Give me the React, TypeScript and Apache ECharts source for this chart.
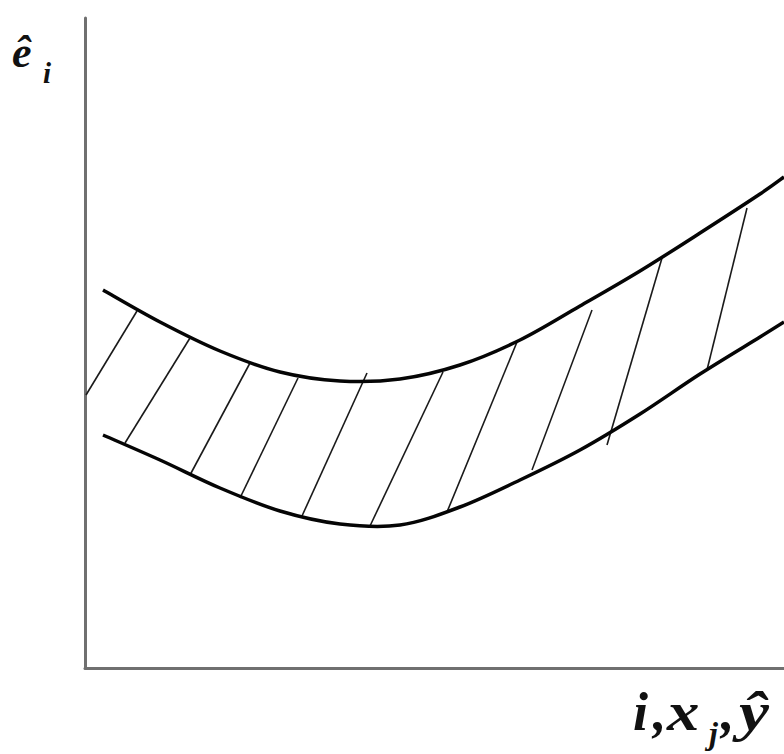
import React, { useEffect, useRef } from "react";
import * as echarts from "echarts";

// Band boundaries, sampled at common x positions
const bandX = [18, 75, 135, 195, 255, 315, 375, 435, 495, 555, 615, 675, 699];
const upperY = [378, 346, 317, 296, 287, 289, 303, 328, 362, 397, 435, 474, 491];
const lowerY = [233, 208, 180, 157, 144, 143, 161, 188, 218, 254, 294, 331, 346];

// Hatch strokes between the two boundaries: start point and end point
const hatchX0 = [1, 40, 105, 155, 217, 285, 362, 447, 522, 622];
const hatchY0 = [273, 225, 193, 170, 152, 142, 156, 198, 223, 298];
const hatchX1 = [52, 105, 165, 213, 282, 358, 432, 507, 577, 662];
const hatchY1 = [357, 330, 305, 290, 295, 296, 326, 358, 410, 460];

const X_MAX = 699;
const Y_MAX = 650;

const SERIF = '"Liberation Serif", "Times New Roman", serif';

// One italic bold glyph, placed by its left edge and vertical centre
function glyph(text: string, x: number, y: number, size: number, stretch = 1) {
  return {
    type: "text",
    x,
    y,
    scaleX: stretch,
    style: {
      text,
      x: 0,
      y: 0,
      fill: "#111",
      font: `italic bold ${size}px ${SERIF}`,
      textAlign: "left",
      textVerticalAlign: "middle",
    },
  };
}

// Catmull-Rom spline through screen points, written as cubic Bézier segments
function splinePath(pts: number[][]): string {
  let d = `M${pts[0][0]},${pts[0][1]}`;
  for (let i = 0; i < pts.length - 1; i++) {
    const p0 = pts[i - 1] || pts[i];
    const p1 = pts[i];
    const p2 = pts[i + 1];
    const p3 = pts[i + 2] || p2;
    const c1x = p1[0] + (p2[0] - p0[0]) / 6;
    const c1y = p1[1] + (p2[1] - p0[1]) / 6;
    const c2x = p2[0] - (p3[0] - p1[0]) / 6;
    const c2y = p2[1] - (p3[1] - p1[1]) / 6;
    d += ` C${c1x},${c1y} ${c2x},${c2y} ${p2[0]},${p2[1]}`;
  }
  return d;
}

export default function App() {
  const ref = useRef<HTMLDivElement>(null);

  useEffect(() => {
    if (!ref.current) return;
    const chart = echarts.init(ref.current, null, { renderer: "svg" });

    const hatch = hatchX0.map((x, i) => ({
      coords: [
        [x, hatchY0[i]],
        [hatchX1[i], hatchY1[i]],
      ],
    }));

    const axisCommon = {
      type: "value" as const,
      axisLine: { show: true, lineStyle: { color: "#707070", width: 3 } },
      axisTick: { show: false },
      axisLabel: { show: false },
      splitLine: { show: false },
    };

    // A boundary curve: one smooth path through all of its sampled points
    const boundary = (ys: number[]) => {
      const data = bandX.map((x, i) => [x, ys[i]]);
      return {
        type: "custom",
        data,
        silent: true,
        z: 3,
        renderItem: (params: any, api: any) => {
          if (params.dataIndex !== 0) return null;
          const pts = data.map((p) => api.coord(p));
          return {
            type: "path",
            shape: { pathData: splinePath(pts) },
            style: { fill: "none", stroke: "#050505", lineWidth: 3.5 },
          };
        },
      };
    };

    chart.setOption({
      animation: false,
      backgroundColor: "#ffffff",
      grid: { left: 85, right: 0, top: 18, bottom: 86 },
      xAxis: { ...axisCommon, min: 0, max: X_MAX },
      yAxis: { ...axisCommon, min: 0, max: Y_MAX },
      series: [
        {
          type: "lines",
          coordinateSystem: "cartesian2d",
          data: hatch,
          silent: true,
          lineStyle: { color: "#1a1a1a", width: 1.6, curveness: 0, opacity: 1 },
          z: 2,
        },
        boundary(upperY),
        boundary(lowerY),
      ],
      graphic: [
        glyph("ê", 12, 52, 44),
        glyph("i", 43, 73, 29),
        glyph("i", 633, 712, 54),
        glyph(",", 653, 712, 54),
        glyph("x", 667, 712, 54, 1.2),
        glyph("j", 709, 733, 32),
        glyph(",", 721, 712, 54),
        glyph("ŷ", 739, 712, 54, 1.25),
      ],
    });

    return () => chart.dispose();
  }, []);

  return (
    <div
      ref={ref}
      style={{ position: "absolute", left: 0, top: 0, width: 784, height: 754 }}
    />
  );
}
